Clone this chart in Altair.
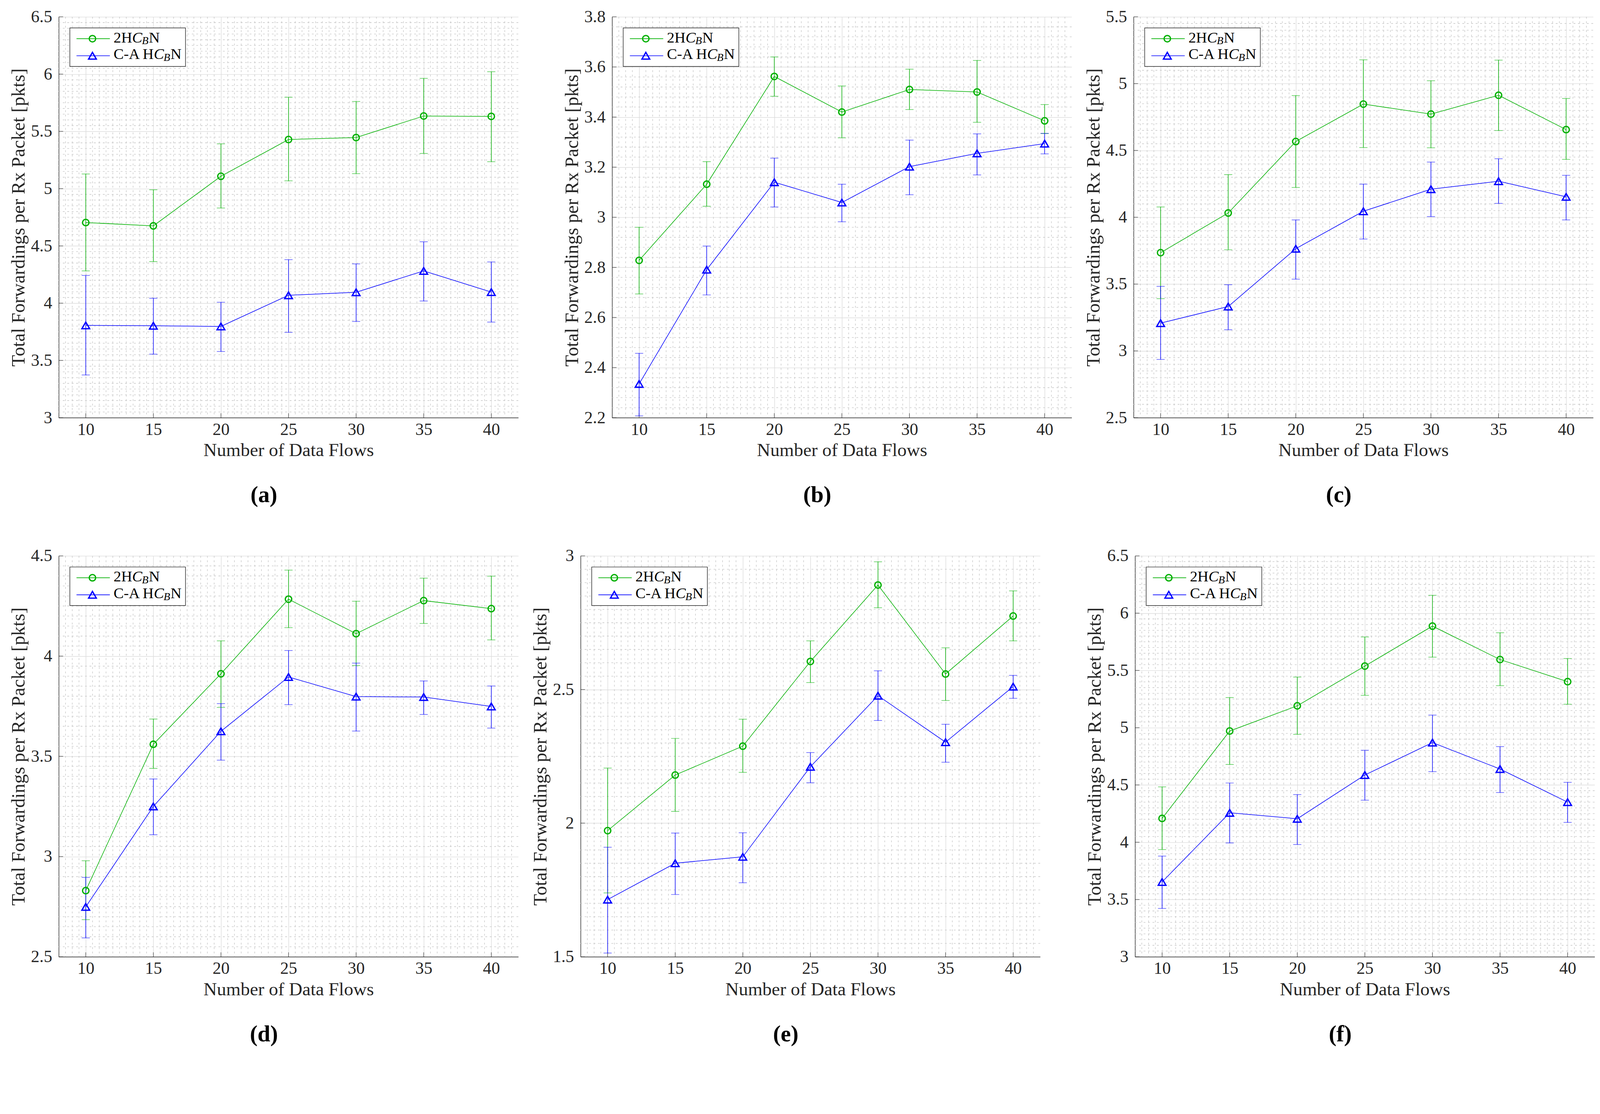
import altair as alt
import pandas as pd

FLOWS = [10, 15, 20, 25, 30, 35, 40]
SERIES = ["2HCBN", "C-A HCBN"]
GREEN = "#00b000"
BLUE = "#0000ff"
INK = "#262626"
FONT = "Liberation Serif"
W, H = 1240, 1082

# ---- panel (a)
A_G = [4.704, 4.675, 5.108, 5.429, 5.446, 5.634, 5.631]
A_G_HI = [5.128, 4.990, 5.391, 5.798, 5.761, 5.963, 6.021]
A_G_LO = [4.282, 4.363, 4.831, 5.068, 5.131, 5.307, 5.235]
A_B = [3.806, 3.803, 3.797, 4.069, 4.095, 4.282, 4.097]
A_B_HI = [4.242, 4.043, 4.008, 4.380, 4.343, 4.536, 4.360]
A_B_LO = [3.373, 3.555, 3.578, 3.745, 3.840, 4.019, 3.835]
# ---- panel (b)
B_G = [2.828, 3.132, 3.562, 3.420, 3.510, 3.500, 3.385]
B_G_HI = [2.960, 3.222, 3.640, 3.524, 3.591, 3.626, 3.450]
B_G_LO = [2.694, 3.044, 3.483, 3.317, 3.430, 3.379, 3.334]
B_B = [2.335, 2.791, 3.140, 3.059, 3.202, 3.255, 3.294]
B_B_HI = [2.457, 2.885, 3.236, 3.132, 3.308, 3.333, 3.335]
B_B_LO = [2.207, 2.690, 3.041, 2.982, 3.090, 3.169, 3.253]
# ---- panel (c)
C_G = [3.735, 4.032, 4.567, 4.847, 4.772, 4.913, 4.656]
C_G_HI = [4.077, 4.319, 4.911, 5.178, 5.022, 5.176, 4.889]
C_G_LO = [3.391, 3.757, 4.223, 4.522, 4.520, 4.649, 4.433]
C_B = [3.208, 3.332, 3.765, 4.045, 4.210, 4.270, 4.153]
C_B_HI = [3.483, 3.495, 3.980, 4.248, 4.413, 4.438, 4.314]
C_B_LO = [2.936, 3.158, 3.537, 3.837, 4.005, 4.104, 3.980]
# ---- panel (d)
D_G = [2.830, 3.560, 3.912, 4.284, 4.112, 4.277, 4.237]
D_G_HI = [2.979, 3.686, 4.076, 4.429, 4.274, 4.389, 4.399]
D_G_LO = [2.685, 3.440, 3.744, 4.142, 3.953, 4.163, 4.081]
D_B = [2.749, 3.250, 3.625, 3.896, 3.798, 3.796, 3.749]
D_B_HI = [2.896, 3.387, 3.763, 4.028, 3.965, 3.876, 3.851]
D_B_LO = [2.594, 3.109, 3.481, 3.758, 3.626, 3.709, 3.641]
# ---- panel (e)
E_G = [1.972, 2.180, 2.288, 2.605, 2.891, 2.558, 2.775]
E_G_HI = [2.206, 2.317, 2.389, 2.682, 2.978, 2.656, 2.869]
E_G_LO = [1.739, 2.044, 2.190, 2.526, 2.806, 2.459, 2.682]
E_B = [1.714, 1.850, 1.874, 2.211, 2.477, 2.303, 2.511]
E_B_HI = [1.910, 1.963, 1.964, 2.264, 2.570, 2.370, 2.553]
E_B_LO = [1.514, 1.733, 1.777, 2.151, 2.384, 2.228, 2.467]
# ---- panel (f)
F_G = [4.208, 4.971, 5.191, 5.538, 5.887, 5.595, 5.402]
F_G_HI = [4.483, 5.263, 5.442, 5.792, 6.156, 5.829, 5.604]
F_G_LO = [3.936, 4.679, 4.942, 5.283, 5.616, 5.367, 5.205]
F_B = [3.653, 4.257, 4.205, 4.587, 4.870, 4.639, 4.350]
F_B_HI = [3.879, 4.517, 4.416, 4.803, 5.110, 4.835, 4.523]
F_B_LO = [3.422, 3.994, 3.980, 4.367, 4.616, 4.434, 4.173]

# y axis ranges: (min, max, major step, minor step)
Y_RANGES = {
    "a": (3.0, 6.5, 0.5, 0.05),
    "b": (2.2, 3.8, 0.2, 0.04),
    "c": (2.5, 5.5, 0.5, 0.05),
    "d": (2.5, 4.5, 0.5, 0.05),
    "e": (1.5, 3.0, 0.5, 0.05),
    "f": (3.0, 6.5, 0.5, 0.05),
}
X_MIN, X_MAX = 8, 42

ONE = pd.DataFrame({"k": [0]})


def legend_layers():
    layers = []
    layers.append(
        alt.Chart(ONE).mark_rect(fill="white", stroke=INK, strokeWidth=1.5).encode(
            x=alt.value(30), x2=alt.value(342), y=alt.value(30), y2=alt.value(134)))
    for col, shape, yy, size in ((GREEN, "circle", 59, 300), (BLUE, "triangle-up", 105, 440)):
        layers.append(alt.Chart(ONE).mark_rule(color=col, strokeWidth=1.8).encode(
            x=alt.value(48), x2=alt.value(138), y=alt.value(yy)))
        layers.append(alt.Chart(ONE).mark_point(shape=shape, filled=False, color=col,
                                                 size=size, strokeWidth=3.5, opacity=1).encode(
            x=alt.value(91), y=alt.value(yy)))
    fs, sub = 41, 29
    rows = [
        (69, [("2H", "normal", fs, 0, (0.5 + 0.722) * fs),
              ("C", "italic", fs, 0, 0.667 * fs - 1),
              ("B", "italic", sub, 5, 0.611 * sub + 1),
              ("N", "normal", fs, 0, 0.722 * fs)]),
        (114, [("C-A H", "normal", fs, 0, (0.667 + 0.333 + 0.722 + 0.25 + 0.722) * fs - 2),
               ("C", "italic", fs, 0, 0.667 * fs - 1),
               ("B", "italic", sub, 5, 0.611 * sub + 1),
               ("N", "normal", fs, 0, 0.722 * fs)]),
    ]
    for base, pieces in rows:
        x = 148.0
        for txt, style, size, dy, w in pieces:
            layers.append(alt.Chart(ONE).mark_text(
                text=txt, align="left", baseline="alphabetic", font=FONT, fontSize=size,
                fontStyle=style, color="black").encode(x=alt.value(x), y=alt.value(base + dy)))
            x += w
    return layers


def panel(letter, gm, glo, ghi, bm, blo, bhi):
    ymin, ymax, ystep, yminor = Y_RANGES[letter]
    rows = []
    for s, m, lo, hi in ((SERIES[0], gm, glo, ghi), (SERIES[1], bm, blo, bhi)):
        for f, a, l, h in zip(FLOWS, m, lo, hi):
            rows.append(dict(flows=f, series=s, mean=a, lo=l, hi=h))
    df = pd.DataFrame(rows)

    nmaj = round((ymax - ymin) / ystep)
    yvals = [round(ymin + i * ystep, 4) for i in range(nmaj + 1)]
    nmin = round((ymax - ymin) / yminor)
    yminor_vals = [round(ymin + i * yminor, 4) for i in range(1, nmin)]
    yminor_vals = [v for v in yminor_vals if all(abs(v - t) > 1e-6 for t in yvals)]
    xminor_vals = [X_MIN + 0.5 * i for i in range(1, int((X_MAX - X_MIN) / 0.5))]
    xminor_vals = [v for v in xminor_vals if v not in FLOWS]

    xs = alt.Scale(domain=[X_MIN, X_MAX], nice=False, zero=False)
    ys = alt.Scale(domain=[ymin, ymax], nice=False, zero=False)
    xaxis = alt.Axis(title="Number of Data Flows", values=FLOWS, format="d", grid=True,
                     gridColor="#dcdcdc", gridWidth=1.5, ticks=False, domainColor=INK,
                     domainWidth=1.5, labelFont=FONT, labelFontSize=46, labelColor=INK,
                     labelPadding=10, labelFlush=False, labelOverlap=False,
                     titleFont=FONT, titleFontSize=50, titleColor=INK,
                     titleFontWeight="normal", titlePadding=8)
    yaxis = alt.Axis(title="Total Forwardings per Rx Packet [pkts]", values=yvals, format="~g",
                     grid=True, gridColor="#dcdcdc", gridWidth=1.5, ticks=False,
                     domainColor=INK, domainWidth=1.5, labelFont=FONT, labelFontSize=46,
                     labelColor=INK, labelPadding=18, labelFlush=False, labelOverlap=False,
                     titleFont=FONT, titleFontSize=51, titleColor=INK,
                     titleFontWeight="normal", titlePadding=6)

    X = lambda f: alt.X(f, type="quantitative", scale=xs, axis=xaxis)
    Y = lambda f: alt.Y(f, type="quantitative", scale=ys, axis=yaxis)

    vgrid = alt.Chart(pd.DataFrame({"v": xminor_vals})).mark_rule(
        color="#c4c4c4", strokeWidth=1.4, strokeDash=[5, 7]).encode(x=X("v"))
    hgrid = alt.Chart(pd.DataFrame({"v": yminor_vals})).mark_rule(
        color="#c4c4c4", strokeWidth=1.4, strokeDash=[5, 7]).encode(y=Y("v"))
    xt = alt.Chart(pd.DataFrame({"v": FLOWS, "y0": [ymin] * len(FLOWS)})).mark_tick(
        orient="vertical", size=12, thickness=1.6, color=INK, yOffset=-6).encode(
        x=X("v"), y=Y("y0"))
    yt = alt.Chart(pd.DataFrame({"v": yvals, "x0": [X_MIN] * len(yvals)})).mark_tick(
        orient="horizontal", size=12, thickness=1.6, color=INK, xOffset=6).encode(
        x=X("x0"), y=Y("v"))

    color = alt.Color("series:N", scale=alt.Scale(domain=SERIES, range=[GREEN, BLUE]),
                      legend=None)
    shape = alt.Shape("series:N", scale=alt.Scale(domain=SERIES,
                                                  range=["circle", "triangle-up"]), legend=None)
    size = alt.Size("series:N", scale=alt.Scale(domain=SERIES, range=[300, 440]), legend=None)
    base = alt.Chart(df)
    err = base.mark_rule(strokeWidth=1.5).encode(x=X("flows"), y=Y("lo"), y2="hi", color=color)
    cap_lo = base.mark_tick(orient="horizontal", size=22, thickness=1.5).encode(
        x=X("flows"), y=Y("lo"), color=color)
    cap_hi = base.mark_tick(orient="horizontal", size=22, thickness=1.5).encode(
        x=X("flows"), y=Y("hi"), color=color)
    line = base.mark_line(strokeWidth=1.6).encode(x=X("flows"), y=Y("mean"), color=color,
                                                   detail="series:N")
    pts = base.mark_point(filled=False, strokeWidth=3.5, opacity=1).encode(
        x=X("flows"), y=Y("mean"), color=color, shape=shape, size=size)

    layers = [vgrid, hgrid, xt, yt, err, cap_lo, cap_hi, line, pts] + legend_layers()
    return alt.layer(*layers).properties(
        width=W, height=H,
        title=alt.TitleParams(text=f"({letter})", orient="bottom", anchor="middle",
                              frame="bounds", font=FONT, fontSize=62, fontWeight="bold",
                              color="black", baseline="top", offset=66))


pa = panel("a", A_G, A_G_LO, A_G_HI, A_B, A_B_LO, A_B_HI)
pb = panel("b", B_G, B_G_LO, B_G_HI, B_B, B_B_LO, B_B_HI)
pc = panel("c", C_G, C_G_LO, C_G_HI, C_B, C_B_LO, C_B_HI)
pd_ = panel("d", D_G, D_G_LO, D_G_HI, D_B, D_B_LO, D_B_HI)
pe = panel("e", E_G, E_G_LO, E_G_HI, E_B, E_B_LO, E_B_HI)
pf = panel("f", F_G, F_G_LO, F_G_HI, F_B, F_B_LO, F_B_HI)

row1 = alt.hconcat(pa, alt.hconcat(pb, pc, spacing=32), spacing=118)
row2 = alt.hconcat(alt.hconcat(pd_, pe, spacing=33), pf, spacing=121)

chart = alt.vconcat(row1, row2, spacing=110).properties(
    padding={"left": 16, "top": -60, "right": 5, "bottom": 5},
    background="white",
).configure_view(stroke=None)

chart.save("out.html", embed_options={"renderer": "svg", "actions": False})
